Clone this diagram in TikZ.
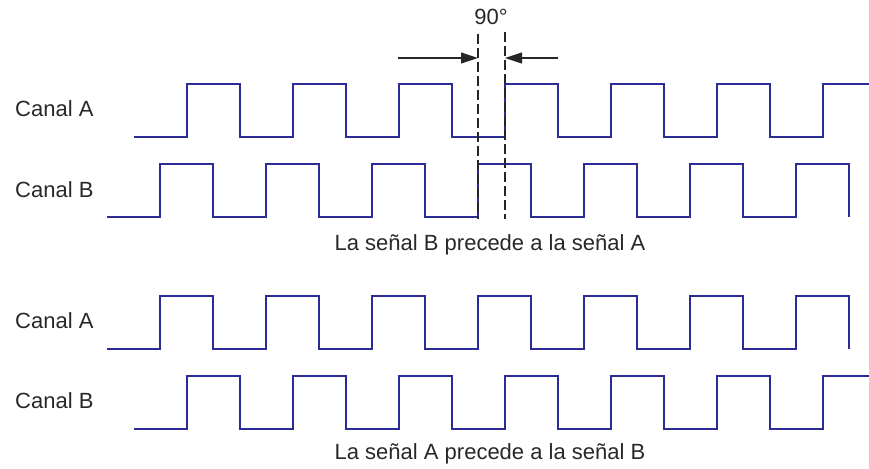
\documentclass[tikz,border=0pt]{standalone}
\usepackage{fontspec}
\setmainfont{Liberation Sans}
\usetikzlibrary{arrows.meta}
\definecolor{wave}{RGB}{44,44,150}
\definecolor{txt}{RGB}{40,40,40}
\begin{document}
\begin{tikzpicture}[x=1pt,y=-1pt,
  wavestyle/.style={draw=wave,line width=1.6pt,line join=miter},
  guide/.style={draw=black!85,line width=1.1pt,dash pattern=on 10pt off 4pt},
  dimarrow/.style={draw=black!85,line width=1.1pt,-{Triangle[length=17pt,width=11pt]}},
  lbl/.style={text=txt,font=\fontsize{22}{26}\selectfont,inner sep=0pt},
  caption/.style={lbl,anchor=base}]
\useasboundingbox (0,0) rectangle (869,468);
% labels
\node[lbl,anchor=base west] (la1) at (15,117) {Canal A};
\node[lbl,anchor=base west] (lb1) at (15,197) {Canal B};
\node[lbl,anchor=base west] (la2) at (15,328) {Canal A};
\node[lbl,anchor=base west] (lb2) at (15,408) {Canal B};
\node[caption] (cap1) at (490,250) {La señal B precede a la señal A};
\node[caption] (cap2) at (490,459) {La señal A precede a la señal B};
\node[caption] (deg) at (491,25) {90°};
% top A
\draw[wavestyle] (134,137) \foreach \k in {0,...,5}{
  -- ({187+106*\k},137) -- ({187+106*\k},84) -- ({240+106*\k},84) -- ({240+106*\k},137) }
  -- (823,137) -- (823,84) -- (869,84);
% top B
\draw[wavestyle] (107,217) \foreach \k in {0,...,6}{
  -- ({160+106*\k},217) -- ({160+106*\k},164) -- ({213+106*\k},164) -- ({213+106*\k},217) };
% bottom A
\draw[wavestyle] (107,349) \foreach \k in {0,...,6}{
  -- ({160+106*\k},349) -- ({160+106*\k},296) -- ({213+106*\k},296) -- ({213+106*\k},349) };
% bottom B
\draw[wavestyle] (134,429) \foreach \k in {0,...,5}{
  -- ({187+106*\k},429) -- ({187+106*\k},376) -- ({240+106*\k},376) -- ({240+106*\k},429) }
  -- (823,429) -- (823,376) -- (869,376);
% guides
\coordinate (g1t) at (478,34);
\coordinate (g1b) at (478,219);
\coordinate (g2t) at (505,32);
\coordinate (g2b) at (505,219);
\coordinate (g1m) at (478,58);
\coordinate (g2m) at (505,58);
\coordinate (a1s) at (398,58);
\coordinate (a2s) at (558,58);
\draw[guide] (g1t) -- (g1b);
\draw[guide] (g2t) -- (g2b);
\draw[dimarrow] (a1s) -- (g1m);
\draw[dimarrow] (a2s) -- (g2m);
\end{tikzpicture}
\end{document}
